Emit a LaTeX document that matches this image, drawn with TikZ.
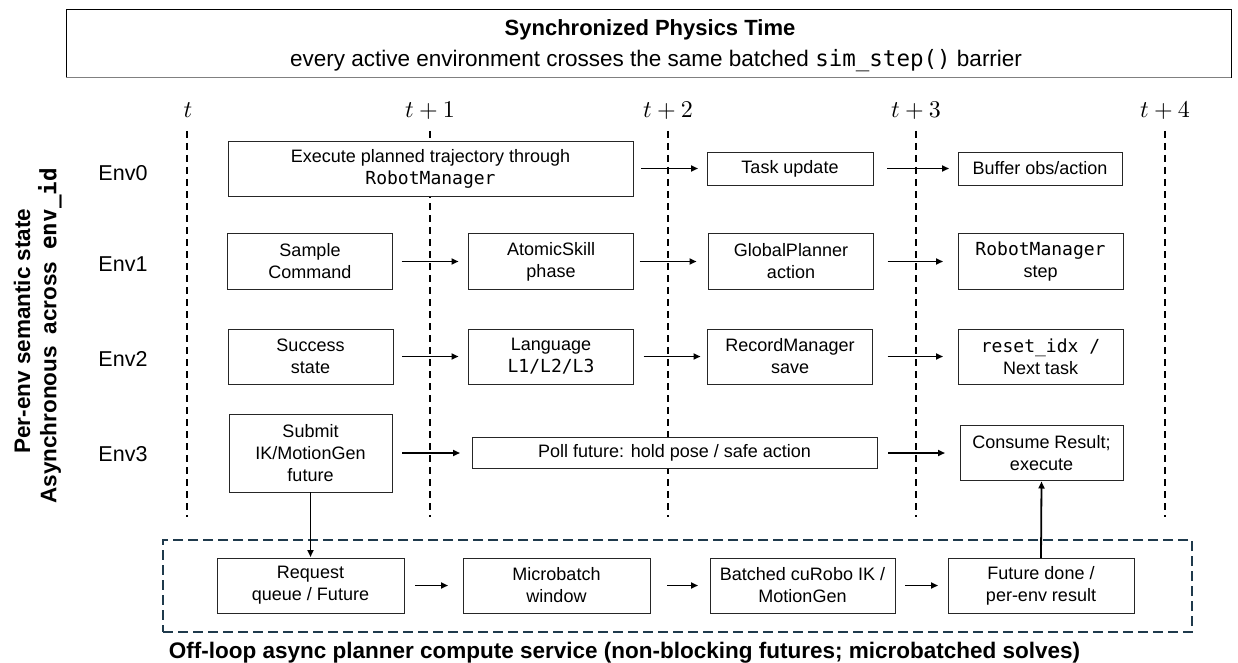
\documentclass[tikz,border=0pt]{standalone}
\usepackage[no-math]{fontspec}
\setmainfont{Liberation Sans}
\setmonofont{DejaVu Sans Mono}
\usetikzlibrary{arrows.meta}
\definecolor{svc}{HTML}{1F3A4C}
\tikzset{
  every node/.style={inner sep=0pt, outer sep=0pt},
  proc/.style={draw=black!85, line width=0.9pt, fill=white, align=center,
    font=\fontsize{18}{22}\selectfont, minimum width=165pt, minimum height=56pt},
  tline/.style={line width=1.7pt, dash pattern=on 7pt off 5pt},
  flow/.style 2 args={line width=1.8pt, -{Triangle[length=7pt,width=6pt]},
    shorten <=#1pt, shorten >=#2pt},
  envlbl/.style={font=\fontsize{21.5}{25}\selectfont, anchor=base},
  tlbl/.style={font=\normalsize, scale=2.4, anchor=base},
  sidelbl/.style={font=\fontsize{22.5}{26}\selectfont\bfseries, rotate=90},
}
\begin{document}
\begin{tikzpicture}[x=1pt,y=-1pt]
\useasboundingbox (0,0) rectangle (1238,663);

% header
\node[draw, line width=0.9pt, minimum width=1165pt, minimum height=68pt] (hdr) at (648.5,43) {};
\draw[black!50, line width=1.8pt] ([yshift=-0.5pt]hdr.south west) -- ([yshift=-0.5pt]hdr.south east);
\node[font=\fontsize{22}{26}\selectfont\bfseries, anchor=base] (title) at (650,36) {Synchronized Physics Time};
\node[font=\fontsize{22.5}{26}\selectfont, anchor=base] (sub) at (656,67)
  {every active environment crosses the same batched \texttt{sim\_step()} barrier};

% time labels and lines
\node[tlbl] (lt0) at (188,118) {$t$};
\node[tlbl] (lt1) at (430,118) {$t+1$};
\node[tlbl] (lt2) at (668,118) {$t+2$};
\node[tlbl] (lt3) at (916,118) {$t+3$};
\node[tlbl] (lt4) at (1165,118) {$t+4$};
\coordinate (ta0) at (187,131);  \coordinate (tb0) at (187,517);
\coordinate (ta1) at (430,131);  \coordinate (tb1) at (430,517);
\coordinate (ta2) at (668,131);  \coordinate (tb2) at (668,517);
\coordinate (ta3) at (916,131);  \coordinate (tb3) at (916,517);
\coordinate (ta4) at (1165,131); \coordinate (tb4) at (1165,517);
\draw[tline] (ta0) -- (tb0);
\draw[tline] (ta1) -- (tb1);
\draw[tline] (ta2) -- (tb2);
\draw[tline] (ta3) -- (tb3);
\draw[tline] (ta4) -- (tb4);

% side labels
\node[sidelbl] (side1) at (22,331) {Per-env semantic state};
\node[sidelbl] (side2) at (50,336) {Asynchronous\hspace{12pt}across\hspace{12pt}\texttt{env\_id}};

% env labels
\node[envlbl] (env0) at (123,181) {Env0};
\node[envlbl] (env1) at (123,271) {Env1};
\node[envlbl] (env2) at (123,366) {Env2};
\node[envlbl] (env3) at (123,461) {Env3};

% Env0
\node[proc, minimum width=405pt, minimum height=55pt] (exe) at (430.5,168.5)
  {Execute planned trajectory through\\\texttt{RobotManager}};
\node[proc, minimum width=166pt, minimum height=33pt] (task) at (790,168.5) {Task update};
\node[proc, minimum width=164pt, minimum height=33pt] (buf) at (1040,168.5) {Buffer obs/action};

% Env1
\node[proc] (sample) at (310,261.5) {Sample\\Command};
\node[proc] (atomic) at (551,261.5) {AtomicSkill\\phase};
\node[proc] (global) at (791,261.5) {GlobalPlanner\\action};
\node[proc] (rmstep) at (1040.5,261.5) {\texttt{RobotManager}\\step};

% Env2
\node[proc, minimum height=55pt] (success) at (310.5,356.5) {Success\\state};
\node[proc, minimum height=55pt] (lang) at (551,356.5) {Language\\\texttt{L1/L2/L3}};
\node[proc, minimum height=55pt] (record) at (790,356.5) {RecordManager\\save};
\node[proc, minimum height=55pt] (reset) at (1040.5,356.5) {\texttt{reset\_idx /}\\Next task};

% Env3
\node[proc, minimum width=163pt, minimum height=78pt] (submit) at (310.5,453) {Submit\\IK/MotionGen\\future};
\node[proc, minimum width=405pt, minimum height=31pt] (poll) at (674.5,453) {Poll future: hold pose / safe action};
\node[proc, minimum width=163pt, minimum height=55pt] (consume) at (1041.5,453) {Consume Result;\\execute};

% service
\node[draw=svc, line width=2pt, dash pattern=on 10pt off 5pt, minimum width=1029pt, minimum height=92pt] (svcbox) at (677.5,586) {};
\node[proc, minimum width=187pt, minimum height=55pt] (req) at (310.5,585.5) {Request\\queue / Future};
\node[proc, minimum width=187pt, minimum height=55pt] (micro) at (556.5,585.5) {Microbatch\\window};
\node[proc, minimum width=185pt, minimum height=55pt] (batched) at (802.5,585.5) {Batched cuRobo IK /\\MotionGen};
\node[proc, minimum width=186pt, minimum height=55pt] (fdone) at (1041,585.5) {Future done /\\per-env result};
\node[font=\fontsize{22.5}{26}\selectfont\bfseries, anchor=base] (cap) at (624.5,658)
  {Off-loop async planner compute service (non-blocking futures; microbatched solves)};

% arrows
\draw[flow={8}{9}] (exe.east) -- (task.west);
\draw[flow={14}{9}] (task.east) -- (buf.west);
\draw[flow={9}{10}] (sample.east) -- (atomic.west);
\draw[flow={6}{12}] (atomic.east) -- (global.west);
\draw[flow={14}{15}] (global.east) -- (rmstep.west);
\draw[flow={9}{10}] (success.east) -- (lang.west);
\draw[flow={10}{7}] (lang.east) -- (record.west);
\draw[flow={15}{15}] (record.east) -- (reset.west);
\draw[flow={10}{12}] (submit.east) -- (poll.west);
\draw[flow={11}{15}] (poll.east) -- (consume.west);
\draw[flow={0}{1}] (submit.south) -- (req.north);
\draw[flow={11}{15}] (req.east) -- (micro.west);
\draw[flow={17}{12}] (micro.east) -- (batched.west);
\draw[flow={10}{10}] (batched.east) -- (fdone.west);
\draw[flow={0}{1}] (fdone.north) -- (consume.south);
\end{tikzpicture}
\end{document}
